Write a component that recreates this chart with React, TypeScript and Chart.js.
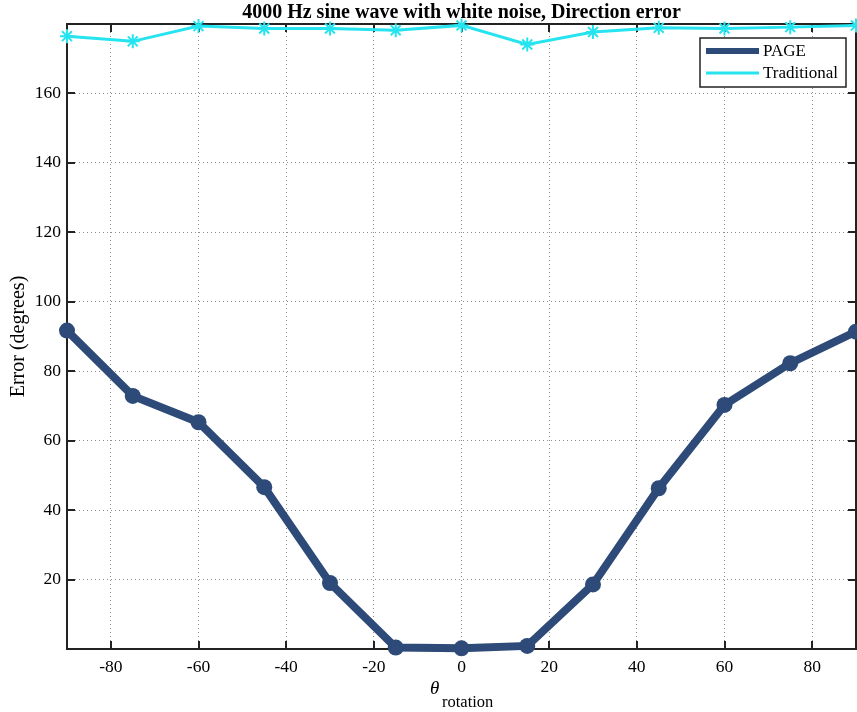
import React, { useEffect, useRef } from 'react';
import { Chart, registerables } from 'chart.js';

Chart.register(...registerables);

const angles = [-90, -75, -60, -45, -30, -15, 0, 15, 30, 45, 60, 75, 90];
const pageErr = [91.7, 72.9, 65.3, 46.6, 19.0, 0.4, 0.2, 0.9, 18.6, 46.3, 70.3, 82.3, 91.4];
const tradErr = [176.5, 175.0, 179.4, 178.7, 178.7, 178.2, 179.6, 174.1, 177.7, 178.9, 178.7, 179.1, 179.6];
const xTicks = [-80, -60, -40, -20, 0, 20, 40, 60, 80];
const yTicks = [20, 40, 60, 80, 100, 120, 140, 160];
const seriesLabels = ['PAGE', 'Traditional'];
const seriesColors = ['#2d4a78', '#26e4ef'];
const titleText = '4000 Hz sine wave with white noise, Direction error';
const yTitle = 'Error (degrees)';
const xTitleSymbol = 'θ';
const xTitleSub = 'rotation';

const SERIF = '"Liberation Serif", "Times New Roman", serif';

const decorPlugin = {
  id: 'decor',
  beforeDatasetsDraw(chart: any) {
    const { ctx, chartArea: a, scales } = chart;
    ctx.save();
    ctx.strokeStyle = '#222';
    ctx.lineWidth = 2;
    ctx.setLineDash([]);
    ctx.strokeRect(a.left, a.top, a.right - a.left, a.bottom - a.top);
    const tl = 8;
    ctx.beginPath();
    for (const v of xTicks) {
      const px = Math.round(scales.x.getPixelForValue(v));
      ctx.moveTo(px, a.bottom);
      ctx.lineTo(px, a.bottom - tl);
      ctx.moveTo(px, a.top);
      ctx.lineTo(px, a.top + tl);
    }
    for (const v of yTicks) {
      const py = Math.round(scales.y.getPixelForValue(v));
      ctx.moveTo(a.left, py);
      ctx.lineTo(a.left + tl, py);
      ctx.moveTo(a.right, py);
      ctx.lineTo(a.right - tl, py);
    }
    ctx.stroke();
    ctx.restore();
  },
  afterDraw(chart: any) {
    const { ctx, chartArea: a } = chart;
    ctx.save();
    ctx.fillStyle = '#000';
    // title
    ctx.font = `bold 20px ${SERIF}`;
    ctx.textAlign = 'center';
    ctx.textBaseline = 'alphabetic';
    ctx.fillText(titleText, (a.left + a.right) / 2, 18);
    // y title
    ctx.save();
    ctx.translate(19, (a.top + a.bottom) / 2);
    ctx.rotate(-Math.PI / 2);
    ctx.font = `20px ${SERIF}`;
    ctx.textAlign = 'center';
    ctx.textBaseline = 'middle';
    ctx.fillText(yTitle, 0, 0);
    ctx.restore();
    // x title
    ctx.textAlign = 'left';
    ctx.textBaseline = 'alphabetic';
    ctx.font = `italic 19px ${SERIF}`;
    ctx.fillText(xTitleSymbol, 430, 694);
    ctx.font = `16.5px ${SERIF}`;
    ctx.fillText(xTitleSub, 442, 707);
    // legend
    const bx = 700, by = 38, bw = 146, bh = 49;
    ctx.fillStyle = '#fff';
    ctx.fillRect(bx, by, bw, bh);
    ctx.strokeStyle = '#222';
    ctx.lineWidth = 1.5;
    ctx.strokeRect(bx, by, bw, bh);
    const rows = [51, 73];
    const widths = [6, 3];
    seriesLabels.forEach((lab, i) => {
      ctx.strokeStyle = seriesColors[i];
      ctx.lineWidth = widths[i];
      ctx.beginPath();
      ctx.moveTo(706, rows[i]);
      ctx.lineTo(759, rows[i]);
      ctx.stroke();
      ctx.fillStyle = '#000';
      ctx.font = `17px ${SERIF}`;
      ctx.textAlign = 'left';
      ctx.textBaseline = 'middle';
      ctx.fillText(lab, 763, rows[i] + 1);
    });
    ctx.restore();
  },
};

export default function App() {
  const ref = useRef<HTMLCanvasElement | null>(null);
  useEffect(() => {
    if (!ref.current) return;
    const chart = new Chart(ref.current, {
      type: 'line',
      data: {
        datasets: [
          {
            label: seriesLabels[0],
            data: angles.map((x, i) => ({ x, y: pageErr[i] })),
            borderColor: seriesColors[0],
            backgroundColor: seriesColors[0],
            borderWidth: 8,
            pointRadius: 8,
            pointStyle: 'circle',
            pointBorderWidth: 0,
            pointBackgroundColor: seriesColors[0],
            clip: false,
          } as any,
          {
            label: seriesLabels[1],
            data: angles.map((x, i) => ({ x, y: tradErr[i] })),
            borderColor: seriesColors[1],
            backgroundColor: seriesColors[1],
            borderWidth: 3,
            pointRadius: 7,
            pointStyle: 'star',
            pointBorderWidth: 2,
            pointBorderColor: seriesColors[1],
            clip: false,
          } as any,
        ],
      },
      options: {
        responsive: false,
        animation: false,
        devicePixelRatio: 1,
        layout: { autoPadding: false, padding: { top: 24, right: 1, left: 0, bottom: 0 } },
        plugins: {
          legend: { display: false },
          title: { display: false },
          tooltip: { enabled: false },
        },
        scales: {
          x: {
            type: 'linear',
            min: -90,
            max: 90,
            afterBuildTicks: (s: any) => {
              s.ticks = xTicks.map((v) => ({ value: v }));
            },
            afterFit: (s: any) => {
              s.height = 63;
            },
            grid: { display: true, drawTicks: false, color: '#8c8c8c', lineWidth: 1 },
            border: { display: false, dash: [1, 3] },
            ticks: {
              color: '#000',
              padding: 8,
              maxRotation: 0,
              autoSkip: false,
              font: { family: SERIF, size: 17.5 },
              callback: (v: any) => String(v),
            },
          },
          y: {
            type: 'linear',
            min: 0,
            max: 180,
            afterBuildTicks: (s: any) => {
              s.ticks = yTicks.map((v) => ({ value: v }));
            },
            afterFit: (s: any) => {
              s.width = 67;
            },
            grid: { display: true, drawTicks: false, color: '#8c8c8c', lineWidth: 1 },
            border: { display: false, dash: [1, 3] },
            ticks: {
              color: '#000',
              padding: 6,
              autoSkip: false,
              font: { family: SERIF, size: 17.5 },
              callback: (v: any) => String(v),
            },
          },
        },
      },
      plugins: [decorPlugin],
    });
    return () => chart.destroy();
  }, []);
  return (
    <div style={{ position: 'absolute', left: 0, top: 0, width: 857, height: 712, background: '#fff' }}>
      <canvas ref={ref} width={857} height={712} style={{ display: 'block' }} />
    </div>
  );
}
